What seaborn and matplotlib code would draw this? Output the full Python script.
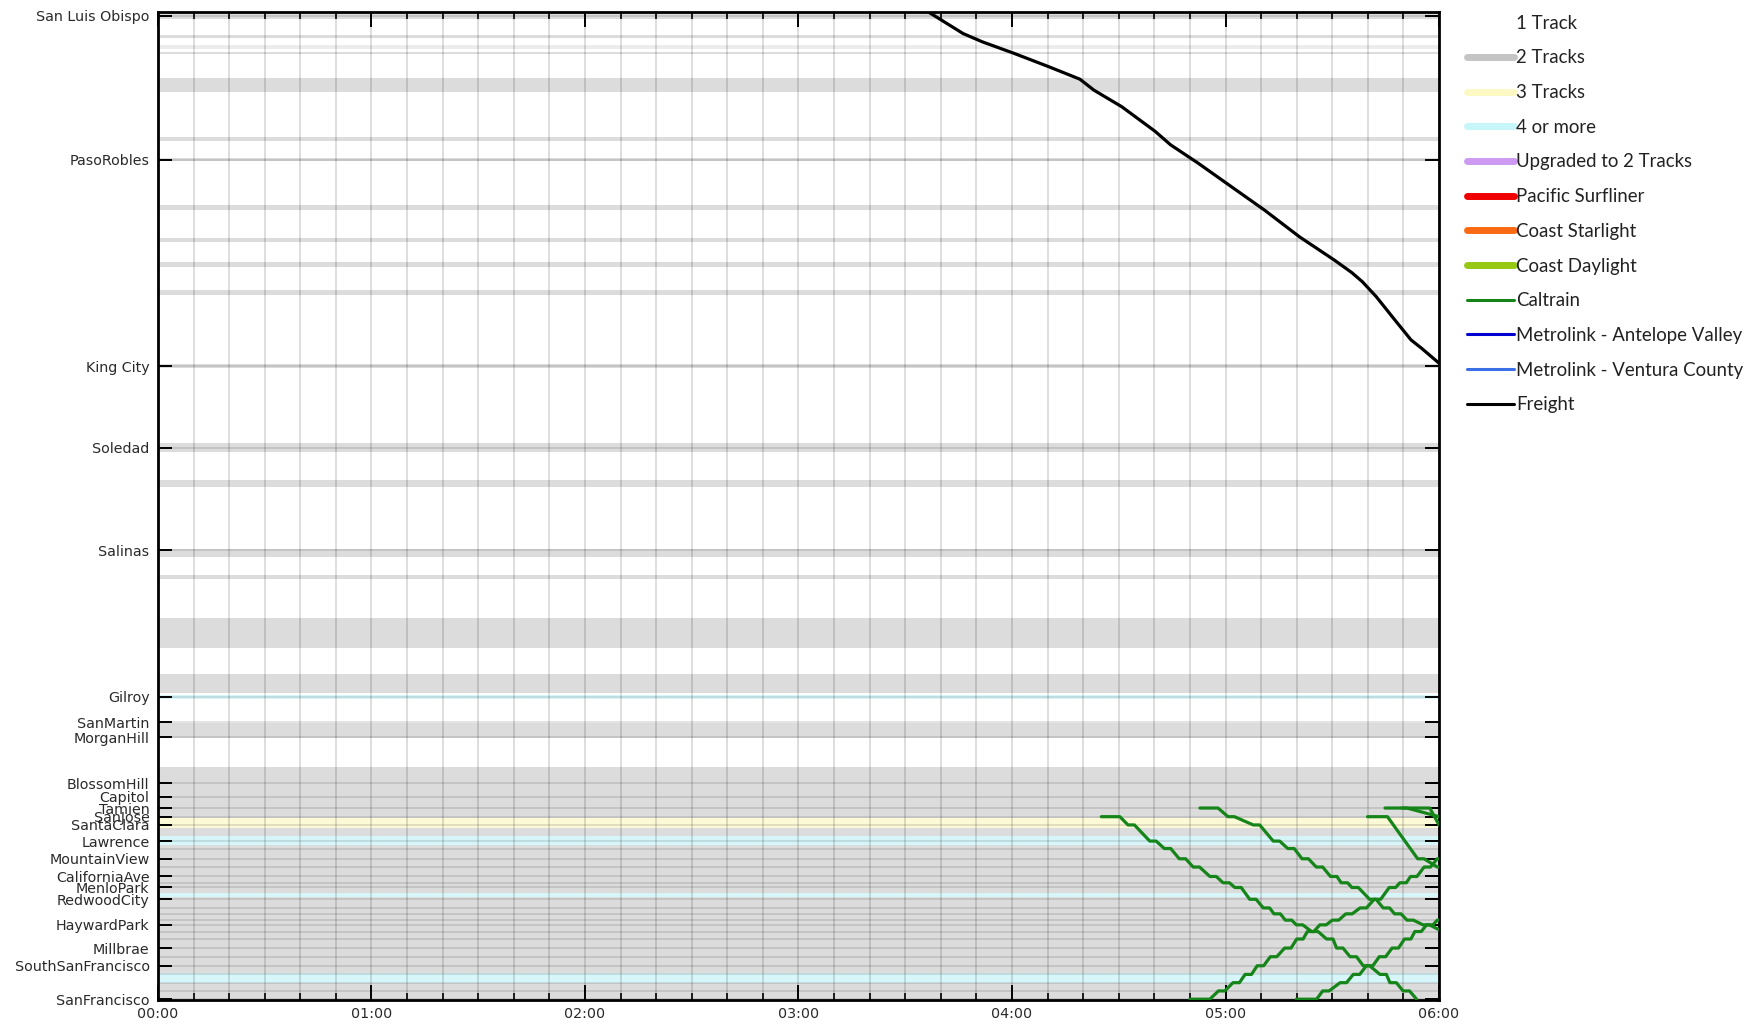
import pandas as pd
import seaborn as sns
import matplotlib.pyplot as plt
from matplotlib.lines import Line2D
from matplotlib.ticker import FuncFormatter, MultipleLocator

# stations on the y axis, miles from San Francisco
station_names = ["San Luis Obispo", "PasoRobles", "King City", "Soledad", "Salinas",
                 "Gilroy", "SanMartin", "MorganHill", "BlossomHill", "Capitol", "Tamien",
                 "SanJose", "SantaClara", "Lawrence", "MountainView", "CaliforniaAve",
                 "MenloPark", "RedwoodCity", "HaywardPark", "Millbrae",
                 "SouthSanFrancisco", "SanFrancisco"]
station_miles = [250.0, 213.4, 160.9, 140.2, 114.2, 76.9, 70.4, 66.6, 54.9, 51.5, 48.6,
                 46.4, 44.3, 40.2, 35.7, 31.2, 28.4, 25.4, 18.9, 13.0, 8.5, 0.0]

# track sections (mile ranges)
two_track = [(249.3, 251.2), (244.3, 245.1), (240.2, 240.9), (230.7, 234.3),
             (218.2, 219.1), (213.1, 213.8), (200.6, 201.8), (192.5, 193.5),
             (186.2, 187.4), (179.1, 180.3), (160.5, 161.5), (139.2, 141.3),
             (130.2, 132.0), (112.5, 114.4), (106.8, 107.9), (89.2, 96.9),
             (77.8, 82.7), (66.5, 70.2), (-1.0, 59.1)]
two_track_faint = [(241.7, 242.6)]
three_track = [(43.5, 46.0)]
four_track = [(76.4, 77.3), (39.2, 41.5), (25.9, 26.9), (4.2, 6.6)]

# Caltrain stops, northbound order (Tamien -> San Francisco)
nb_stops = [48.6, 46.4, 44.3, 40.2, 38.3, 35.7, 33.6, 31.2, 29.6, 28.4, 25.4, 23.2,
            21.7, 20.1, 18.9, 17.2, 15.3, 13.0, 10.8, 8.5, 6.3, 4.2, 2.1, 0.0]
sb_stops = nb_stops[::-1]

# arrival times, minutes after midnight (None = not served)
nb1_arr = [None, 265.1, 272.6, 278.7, 282.8, 287.0, 290.9, 295.6, 299.3, 302.6, 306.8,
           310.6, 313.6, 316.8, 319.9, 324.2, 328.4, 331.2, 335.0, 338.7, 343.4, 346.2,
           349.9, 353.7]
nb2_arr = [292.8, 300.7, 307.8, 313.4, 317.5, 321.5, 325.5, 329.5, 332.5, 335.5, 340.5,
           344.3, 347.5, 351.0, 355.5, 361.0, None, None, None, None, None, None,
           None, None]
nb3_arr = [None, 339.9, None, None, None, 354.0, 359.5, 363.0] + [None] * 16
nb4_arr = [344.8, None, 360.0] + [None] * 21
nb5_arr = [349.5, 360.0] + [None] * 22
sb1_arr = [290.0, 298.0, 302.1, 305.5, 308.9, 312.6, 316.6, 320.0, 323.0, 326.5, 330.0,
           333.8, 337.8, 341.8, 346.0, 349.0, 352.0, 355.8, 359.5, 363.5, None, None,
           None, None]
sb2_arr = [319.9, 327.3, 332.2, 335.9, 339.6, 343.2, 346.8, 350.3, 353.2, 356.5, 359.5,
           363.0] + [None] * 12

caltrain_runs = [
    ("nb1", nb_stops, nb1_arr, 270.3),
    ("nb2", nb_stops, nb2_arr, 297.9),
    ("nb3", nb_stops, nb3_arr, 345.5),
    ("nb4", nb_stops, nb4_arr, 357.4),
    ("nb5", nb_stops, nb5_arr, 351.0),
    ("sb1", sb_stops, sb1_arr, 295.6),
    ("sb2", sb_stops, sb2_arr, 325.6),
]
dwell = 1.8

# freight, southbound from San Luis Obispo toward King City (hours, miles)
freight_hours = [3.608, 3.771, 3.861, 4.008, 4.171, 4.318, 4.384, 4.514, 4.669, 4.743,
                 4.873, 5.037, 5.183, 5.347, 5.510, 5.592, 5.641, 5.706, 5.787, 5.869,
                 5.918, 6.0]
freight_miles = [251.0, 245.5, 243.4, 240.5, 237.1, 233.9, 231.1, 226.9, 220.7, 217.2,
                 212.5, 206.2, 200.6, 193.8, 187.9, 184.7, 182.4, 178.6, 173.1, 167.6,
                 165.5, 161.7]

rows = []
for run, stops, arr, dep0 in caltrain_runs:
    served = [(m, a) for m, a in zip(stops, arr) if a is not None]
    for i, (m, a) in enumerate(served):
        rows.append((run, "Caltrain", a / 60, m))
        if i == 0:
            rows.append((run, "Caltrain", dep0 / 60, m))
        elif i < len(served) - 1:
            rows.append((run, "Caltrain", (a + dwell) / 60, m))
for t, m in zip(freight_hours, freight_miles):
    rows.append(("freight", "Freight", t, m))
df = pd.DataFrame(rows, columns=["run", "service", "hour", "mile"])

sns.set_theme(style="white")
plt.rcParams["font.family"] = ["DejaVu Sans"]

fig = plt.figure(figsize=(17.59, 10.29), dpi=100)
ax = fig.add_axes([0.0898, 0.0282, 0.7283, 0.9602])

for lo, hi in two_track:
    ax.axhspan(lo, hi, color="#dcdcdc", lw=0, zorder=0)
for lo, hi in two_track_faint:
    ax.axhspan(lo, hi, color="#ececec", lw=0, zorder=0)
for lo, hi in three_track:
    ax.axhspan(lo, hi, color="#fbf9d6", lw=0, zorder=0)
for lo, hi in four_track:
    ax.axhspan(lo, hi, color="#d6f6fa", lw=0, zorder=0)

for m in sorted(set(station_miles + nb_stops)):
    ax.axhline(m, color="black", alpha=0.11, lw=1.4, zorder=0.6)

sns.lineplot(data=df, x="hour", y="mile", units="run", estimator=None, sort=False,
             hue="service", palette={"Caltrain": "#15851a", "Freight": "black"},
             lw=2.3, legend=False, ax=ax, zorder=3)

ax.set_xlim(0, 6)
ax.set_ylim(-0.2, 251.0)
ax.set_xlabel("")
ax.set_ylabel("")
ax.xaxis.set_major_locator(MultipleLocator(1))
ax.xaxis.set_minor_locator(MultipleLocator(1 / 6))
ax.xaxis.set_major_formatter(FuncFormatter(lambda h, _: f"{int(round(h)):02d}:00"))
ax.set_yticks(station_miles)
ax.set_yticklabels(station_names)

ax.set_axisbelow(True)
ax.grid(axis="x", which="both", color="black", alpha=0.17, lw=1.1)
ax.grid(axis="y", visible=False)

ax.tick_params(axis="both", which="both", direction="in", top=True, right=True,
               bottom=True, left=True, color="black")
ax.tick_params(axis="y", length=10, width=1.4, pad=6, labelsize=10.3, labelcolor="#2a2a2a")
ax.tick_params(axis="x", which="major", length=11, width=1.4, pad=5, labelsize=10.3,
               labelcolor="#2a2a2a")
ax.tick_params(axis="x", which="minor", length=5, width=1.2)
for s in ax.spines.values():
    s.set_color("black")
    s.set_linewidth(2.0)

legend_items = [
    ("1 Track", "white", 5),
    ("2 Tracks", "#c4c4c4", 5),
    ("3 Tracks", "#fdf9c4", 5),
    ("4 or more", "#c6f6fa", 5),
    ("Upgraded to 2 Tracks", "#cc9af0", 5),
    ("Pacific Surfliner", "#f00000", 5),
    ("Coast Starlight", "#fa6a14", 5),
    ("Coast Daylight", "#96c814", 5),
    ("Caltrain", "#15851a", 2.2),
    ("Metrolink - Antelope Valley", "#0000d0", 2.2),
    ("Metrolink - Ventura County", "#3a6fe8", 2.2),
    ("Freight", "black", 2.2),
]
handles = [Line2D([0], [0], color=c, lw=w, solid_capstyle="round") for _, c, w in legend_items]
labels = [n for n, _, _ in legend_items]
fig.legend(handles, labels, loc="upper left", bbox_to_anchor=(1450 / 1759, 1 + 2 / 1029),
           frameon=False, handlelength=2.55, handletextpad=0.12, labelspacing=0.95,
           prop={"family": ["Lato", "DejaVu Sans"], "size": 13.4}, labelcolor="#222222")

fig.savefig("out.png", dpi=100)
